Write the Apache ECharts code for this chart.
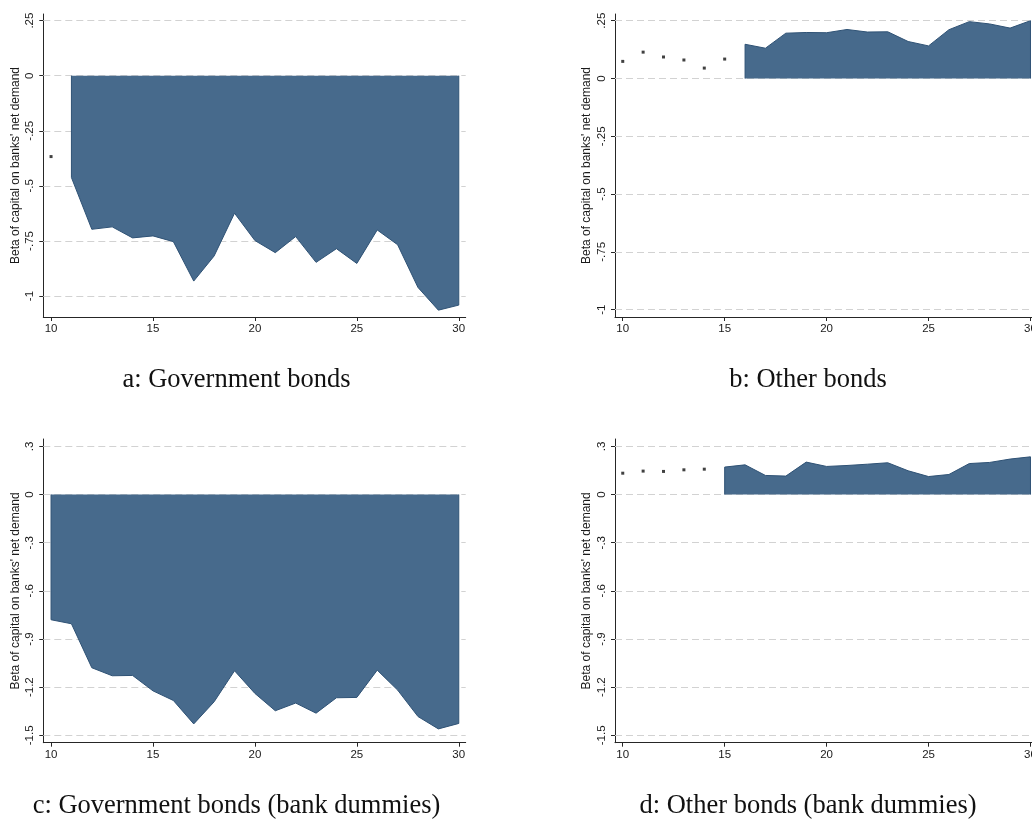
<!DOCTYPE html>
<html>
<head>
<meta charset="utf-8">
<script src="https://cdn.jsdelivr.net/npm/echarts@6/dist/echarts.min.js"></script>
<style>
  html, body { margin: 0; padding: 0; background: #ffffff; }
  #chart { width: 1032px; height: 821px; }
</style>
</head>
<body>
<div id="chart"></div>
<script>
// Horizon ticks and value ticks
const xTicks = [10, 15, 20, 25, 30];
const yTicksTop = [-1, -0.75, -0.5, -0.25, 0, 0.25];
const yTicksBottom = [-1.5, -1.2, -0.9, -0.6, -0.3, 0, 0.3];
const yTitle = "Beta of capital on banks' net demand";
const captions = [
  'a: Government bonds',
  'b: Other bonds',
  'c: Government bonds (bank dummies)',
  'd: Other bonds (bank dummies)'
];

// a: Government bonds
const govDotX = [10];
const govDotY = [-0.367];
const govAreaX = [11, 12, 13, 14, 15, 16, 17, 18, 19, 20, 21, 22, 23, 24, 25, 26, 27, 28, 29, 30];
const govAreaY = [-0.462, -0.697, -0.686, -0.736, -0.727, -0.753, -0.932, -0.818, -0.624, -0.748,
                  -0.803, -0.730, -0.847, -0.785, -0.852, -0.700, -0.767, -0.961, -1.064, -1.041];

// b: Other bonds
const othDotX = [10, 11, 12, 13, 14, 15];
const othDotY = [0.074, 0.114, 0.093, 0.080, 0.045, 0.084];
const othAreaX = [16, 17, 18, 19, 20, 21, 22, 23, 24, 25, 26, 27, 28, 29, 30];
const othAreaY = [0.148, 0.131, 0.196, 0.199, 0.198, 0.212, 0.201, 0.202, 0.160, 0.141,
                  0.211, 0.246, 0.236, 0.218, 0.250];

// c: Government bonds (bank dummies)
const govBdDotX = [];
const govBdDotY = [];
const govBdAreaX = [10, 11, 12, 13, 14, 15, 16, 17, 18, 19, 20, 21, 22, 23, 24, 25, 26, 27, 28, 29, 30];
const govBdAreaY = [-0.780, -0.805, -1.079, -1.129, -1.127, -1.223, -1.283, -1.429, -1.291, -1.098,
                    -1.239, -1.347, -1.299, -1.362, -1.266, -1.264, -1.094, -1.218, -1.383, -1.460, -1.426];

// d: Other bonds (bank dummies)
const othBdDotX = [10, 11, 12, 13, 14];
const othBdDotY = [0.133, 0.146, 0.144, 0.154, 0.158];
const othBdAreaX = [15, 16, 17, 18, 19, 20, 21, 22, 23, 24, 25, 26, 27, 28, 29, 30];
const othBdAreaY = [0.171, 0.185, 0.119, 0.115, 0.202, 0.175, 0.181, 0.189, 0.198, 0.148,
                    0.112, 0.125, 0.193, 0.200, 0.221, 0.235];

const panels = [
  { grid: { left: 43.3, top: 14, width: 422.4, height: 303 }, yMin: -1.095, yMax: 0.280, yTicks: yTicksTop,
    dotX: govDotX, dotY: govDotY, areaX: govAreaX, areaY: govAreaY, cap: [236.5, 380] },
  { grid: { left: 615, top: 14, width: 422.4, height: 303 }, yMin: -1.032, yMax: 0.279, yTicks: yTicksTop,
    dotX: othDotX, dotY: othDotY, areaX: othAreaX, areaY: othAreaY, cap: [808, 380] },
  { grid: { left: 43.3, top: 439, width: 422.4, height: 303.7 }, yMin: -1.546, yMax: 0.346, yTicks: yTicksBottom,
    dotX: govBdDotX, dotY: govBdDotY, areaX: govBdAreaX, areaY: govBdAreaY, cap: [236.5, 806] },
  { grid: { left: 615, top: 439, width: 422.4, height: 303.7 }, yMin: -1.546, yMax: 0.346, yTicks: yTicksBottom,
    dotX: othBdDotX, dotY: othBdDotY, areaX: othBdAreaX, areaY: othBdAreaY, cap: [808, 806] }
];

const AXIS_COLOR = '#262626';
const TEXT_COLOR = '#1a1a1a';
const FILL = '#476a8c';
const EDGE = '#2f5275';
const SANS = '"Liberation Sans", Arial, Helvetica, sans-serif';
const SERIF = '"Liberation Serif", "Times New Roman", serif';

// Stata-style number labels: drop the leading zero (".25", "-.5")
function fmt(v) {
  const s = String(+(+v).toFixed(3));
  return s.replace(/^(-?)0\./, '$1.');
}

const grids = [], xAxes = [], yAxes = [], series = [], graphics = [];

panels.forEach((p, i) => {
  grids.push(Object.assign({ containLabel: false, outerBoundsMode: 'none' }, p.grid));

  xAxes.push({
    type: 'value', gridIndex: i, min: 9.62, max: 30.34,
    axisLine: { show: true, onZero: false, lineStyle: { color: AXIS_COLOR, width: 1 } },
    axisTick: { show: true, customValues: xTicks, length: 4, lineStyle: { color: AXIS_COLOR, width: 1 } },
    axisLabel: { customValues: xTicks, fontFamily: SANS, fontSize: 11.5, color: TEXT_COLOR, margin: 6 },
    splitLine: { show: false }
  });

  yAxes.push({
    type: 'value', gridIndex: i, min: p.yMin, max: p.yMax,
    name: yTitle, nameLocation: 'middle', nameRotate: 90, nameGap: 22,
    nameTextStyle: { fontFamily: SANS, fontSize: 12, color: TEXT_COLOR },
    axisLine: { show: true, onZero: false, lineStyle: { color: AXIS_COLOR, width: 1 } },
    axisTick: { show: true, customValues: p.yTicks, length: 4, lineStyle: { color: AXIS_COLOR, width: 1 } },
    axisLabel: { customValues: p.yTicks, rotate: 90, formatter: fmt, fontFamily: SANS, fontSize: 11.5,
                 color: TEXT_COLOR, margin: 7 },
    splitLine: { show: false }
  });

  // dashed horizontal gridlines at each labelled value, kept beneath the shading
  series.push({
    type: 'line', xAxisIndex: i, yAxisIndex: i, data: [], z: 1, silent: true,
    markLine: {
      z: 1, silent: true, symbol: ['none', 'none'], label: { show: false },
      lineStyle: { type: [7, 4], color: '#d2d2d2', width: 1 },
      emphasis: { disabled: true },
      data: p.yTicks.map(v => ({ yAxis: v }))
    }
  });

  // shaded area for the significant horizons, closed down to zero at both ends
  const pts = p.areaX.map((x, k) => [x, p.areaY[k]]);
  const closed = [[p.areaX[0], 0]].concat(pts, [[p.areaX[p.areaX.length - 1], 0]]);
  series.push({
    type: 'line', xAxisIndex: i, yAxisIndex: i, data: closed, z: 3,
    symbol: 'none', silent: true, animation: false,
    lineStyle: { color: EDGE, width: 1 },
    areaStyle: { color: FILL, opacity: 1, origin: 0 }
  });

  // point estimates for the remaining horizons
  series.push({
    type: 'scatter', xAxisIndex: i, yAxisIndex: i, z: 4, silent: true, animation: false,
    symbol: 'rect', symbolSize: 3, itemStyle: { color: '#111111' },
    data: p.dotX.map((x, k) => [x, p.dotY[k]])
  });

  graphics.push({
    type: 'text', x: p.cap[0], y: p.cap[1],
    style: { text: captions[i], font: '26.5px ' + SERIF, fill: '#111111',
             textAlign: 'center', textVerticalAlign: 'middle' }
  });
});

const chart = echarts.init(document.getElementById('chart'), null, { renderer: 'canvas' });
chart.setOption({
  backgroundColor: '#ffffff',
  animation: false,
  grid: grids,
  xAxis: xAxes,
  yAxis: yAxes,
  series: series,
  graphic: graphics
});
</script>
</body>
</html>
